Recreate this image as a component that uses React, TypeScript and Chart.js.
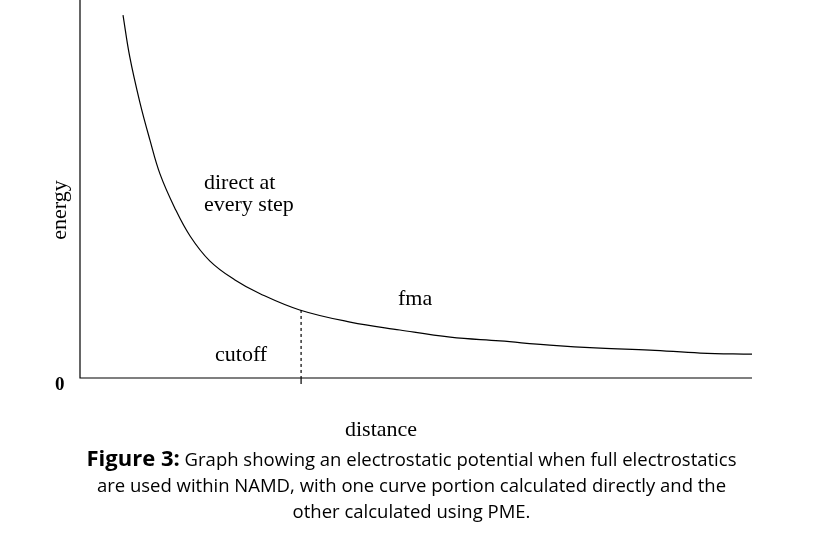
import React, { useEffect, useRef } from "react";
import { Chart, registerables } from "chart.js";
Chart.register(...registerables);

const distance = [6.4, 7.4, 8.9, 10.4, 11.9, 14.1, 16.4, 19.3, 23.0, 26.8, 32.7, 40.2, 47.6, 55.1, 62.5, 69.9, 77.4, 84.8, 92.3, 100];
const energy = [96.0, 85.0, 73.0, 63.0, 54.0, 45.0, 37.5, 31.0, 26.0, 22.3, 18.0, 14.8, 12.7, 10.8, 9.8, 8.7, 7.9, 7.4, 6.6, 6.3];
const cutoffX = 32.9;
const cutoffY = 18.0;

const SERIF = "'Liberation Serif', 'DejaVu Serif', serif";

const overlay = {
  id: "overlay",
  afterDraw(chart: any) {
    const { ctx, chartArea: a, scales } = chart;
    const x = scales.x, y = scales.y;
    ctx.save();
    ctx.strokeStyle = "#000";
    ctx.lineWidth = 1.2;
    ctx.beginPath();
    ctx.moveTo(a.left, a.top);
    ctx.lineTo(a.left, a.bottom);
    ctx.lineTo(a.right, a.bottom);
    ctx.stroke();
    const cx = x.getPixelForValue(cutoffX);
    ctx.setLineDash([3, 3]);
    ctx.beginPath();
    ctx.moveTo(cx, y.getPixelForValue(cutoffY));
    ctx.lineTo(cx, a.bottom);
    ctx.stroke();
    ctx.setLineDash([]);
    ctx.beginPath();
    ctx.moveTo(cx, a.bottom);
    ctx.lineTo(cx, a.bottom + 6);
    ctx.stroke();
    ctx.fillStyle = "#000";
    ctx.font = `22px ${SERIF}`;
    ctx.textBaseline = "alphabetic";
    ctx.textAlign = "left";
    ctx.fillText("direct at", 204, 189);
    ctx.fillText("every step", 204, 211);
    ctx.fillText("fma", 398, 305);
    ctx.fillText("cutoff", 215, 361);
    ctx.fillText("distance", 345, 436);
    ctx.font = `bold 19px ${SERIF}`;
    ctx.fillText("0", 55, 390);
    ctx.font = `22px ${SERIF}`;
    ctx.translate(66, 210);
    ctx.rotate(-Math.PI / 2);
    ctx.textAlign = "center";
    ctx.fillText("energy", 0, 0);
    ctx.restore();
  },
};

export default function App() {
  const ref = useRef<HTMLCanvasElement>(null);
  useEffect(() => {
    const chart = new Chart(ref.current!, {
      type: "line",
      data: {
        datasets: [{
          data: distance.map((d, i) => ({ x: d, y: energy[i] })),
          borderColor: "#000",
          borderWidth: 1.2,
          pointRadius: 0,
          tension: 0.4,
          fill: false,
        }],
      },
      options: {
        animation: false,
        responsive: false,
        layout: { padding: { left: 80, right: 71, top: 0, bottom: 67 } },
        plugins: { legend: { display: false }, tooltip: { enabled: false } },
        scales: {
          x: { type: "linear", min: 0, max: 100, display: false },
          y: { min: 0, max: 100, display: false },
        },
      },
      plugins: [overlay],
    });
    return () => chart.destroy();
  }, []);
  return (
    <div style={{ position: "absolute", left: 0, top: 0, width: 823, height: 552, background: "#fff" }}>
      <canvas ref={ref} width={823} height={445} style={{ position: "absolute", left: 0, top: 0 }} />
      <div style={{ position: "absolute", top: 444, left: 0, width: 823, textAlign: "center", fontFamily: "'Open Sans', 'Noto Sans', sans-serif", fontSize: 18.5, lineHeight: "26px", color: "#000" }}>
        <span style={{ fontWeight: "bold", fontSize: 22 }}>Figure 3:</span> Graph showing an electrostatic potential when full electrostatics<br />
        are used within NAMD, with one curve portion calculated directly and the<br />
        other calculated using PME.
      </div>
    </div>
  );
}
